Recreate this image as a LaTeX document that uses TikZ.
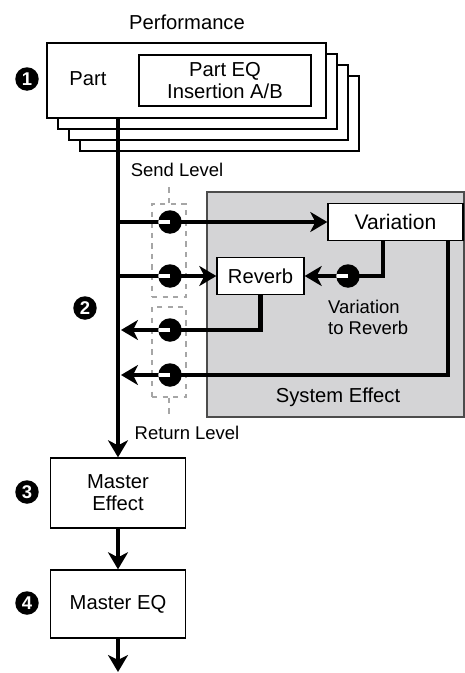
\documentclass[tikz,border=0pt]{standalone}
\usepackage{fontspec}
\setmainfont{Liberation Sans}
\usetikzlibrary{arrows.meta,positioning,calc}
\definecolor{sysgray}{RGB}{212,212,214}

\begin{document}
\begin{tikzpicture}[x=0.02cm, y=-0.02cm,
    every node/.style={font=\fontsize{11.5}{12.5}\selectfont},
    box/.style={draw, fill=white, line width=0.8pt, align=center, inner sep=0},
    flow/.style={line width=2.3pt, -{Stealth[length=3.4mm,width=4mm,inset=1mm]}},
    knob/.style={circle, fill=black, inner sep=0, minimum size=0.47cm,
        path picture={\draw[white, line width=1.8pt] (path picture bounding box.center) -- ++(-2.4mm,0);}},
    badge/.style={circle, fill=black, text=white, inner sep=0, minimum size=0.47cm,
        font=\fontsize{10.5}{10.5}\selectfont\bfseries},
    level/.style={draw=gray!70, dashed, line width=0.8pt}]
    \useasboundingbox (0,0) rectangle (464,673);

    % Parts (stacked)
    \node at (187,22) (perf) {Performance};
    \foreach \i in {3,2,1}
        \node[box, minimum width=5.58cm, minimum height=1.5cm] (p\i) at (186.5+11*\i, 80.5+11*\i) {};
    \node[box, minimum width=5.58cm, minimum height=1.5cm] (part) at (186.5,80.5) {};
    \node (partlbl) at (88,79) {Part};
    \node[box, minimum width=3.44cm, minimum height=1.02cm, font=\fontsize{11.5}{12.8}\selectfont] (peq) at (225,80.5) {Part EQ\\Insertion A/B};
    \node[badge] (b1) at (27,79) {1};

    % System effect
    \node[draw=gray!60!black, fill=sysgray, line width=0.8pt, minimum width=5.14cm, minimum height=4.5cm] (sys) at (335.5,304.5) {};
    \node (syslbl) at (338,397) {System Effect};
    \node[box, minimum width=2.7cm, minimum height=0.74cm, font=\fontsize{12}{13}\selectfont] (var) at (395.5,222) {Variation};
    \node[box, minimum width=1.74cm, minimum height=0.74cm] (rev) at (260.5,276) {Reverb};
    \node[align=left, anchor=west, font=\fontsize{10.5}{12.2}\selectfont] (v2r) at (322,317.5) {Variation\\to Reverb};

    % Level boxes
    \node[level, minimum width=0.68cm, minimum height=1.86cm] (sb) at (169,250.5) {};
    \node[level, minimum width=0.68cm, minimum height=1.8cm] (rb) at (169,352) {};
    \node[font=\fontsize{10.5}{12}\selectfont] (send) at (177,170) {Send Level};
    \node[font=\fontsize{10.5}{12}\selectfont] (ret) at (187,433) {Return Level};
    \draw[level] (sb.north) -- ++(0,-21);
    \draw[level] (rb.south) -- ++(0,16);

    % Master
    \node[box, minimum width=2.7cm, minimum height=1.4cm] (me) at (118,493) {Master\\Effect};
    \node[box, minimum width=2.7cm, minimum height=1.36cm] (meq) at (118,604) {Master EQ};
    \node[badge] (b2) at (85,308) {2};
    \node[badge] (b3) at (27,492) {3};
    \node[badge] (b4) at (27,603) {4};
    \coordinate (split) at (118,118);
    \coordinate (out) at (118,672);

    % Signal flow
    \draw[flow] (split) -- (me.north);
    \draw[flow] (me.south) -- (meq.north);
    \draw[flow] (meq.south) -- (out);
    \draw[flow] (split |- var.west) -- (var.west);
    \draw[flow] (split |- rev.west) -- (rev.west);
    \draw[flow] ([xshift=-0.25cm]var.south) |- (rev.east);
    \draw[flow, shorten >=0.06cm] (rev.south) |- (split |- 0,330);
    \draw[flow, shorten >=0.06cm] ([xshift=-0.32cm]var.south east) |- (split |- 0,375);

    % Knobs
    \node[knob] (sk1) at (170,222) {};
    \node[knob] (sk2) at (170,276) {};
    \node[knob] (rk1) at (170,330) {};
    \node[knob] (rk2) at (170,375) {};
    \node[knob] (vk) at (348,276) {};
\end{tikzpicture}
\end{document}
